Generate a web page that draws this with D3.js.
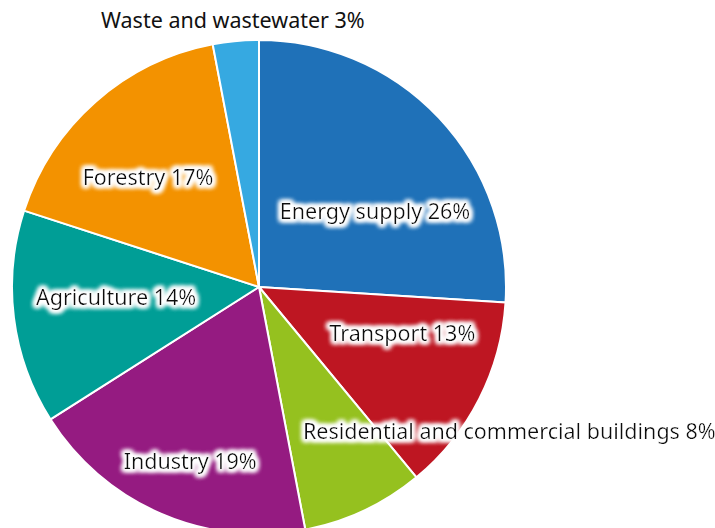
<!DOCTYPE html>
<html>
<head>
<meta charset="utf-8">
<script src="https://cdn.jsdelivr.net/npm/d3@7"></script>
<style>
  body { margin: 0; background: #fff; }
  text { font-family: "Noto Sans", "Open Sans", sans-serif; }
</style>
</head>
<body>
<svg id="chart" width="715" height="528"></svg>
<script>
const sectors = ["Energy supply", "Transport", "Residential and commercial buildings",
  "Industry", "Agriculture", "Forestry", "Waste and wastewater"];
const shares = [26, 13, 8, 19, 14, 17, 3];
const colors = ["#1f71b8", "#be1622", "#95c11f", "#951b81", "#009e96", "#f39200", "#36a9e1"];

// label placement: angle (deg, clockwise from top) and radius as fraction of pie radius
const labelAngle = [57, 108, 120, 201.5, 266, 314.5, 354.4];
const labelRadius = [0.56, 0.61, 1.17, 0.76, 0.58, 0.63, 1.085];
const labelGlow = [true, true, true, true, true, true, false];

const width = 715, height = 528;
const cx = 259, cy = 287, R = 247;

const svg = d3.select("#chart");

// white glow behind text
const defs = svg.append("defs");
const glow = defs.append("filter").attr("id", "glow")
  .attr("x", "-20%").attr("y", "-50%").attr("width", "140%").attr("height", "200%");
glow.append("feMorphology").attr("in", "SourceAlpha").attr("operator", "dilate").attr("radius", 1.5).attr("result", "thick");
glow.append("feGaussianBlur").attr("in", "thick").attr("stdDeviation", 2.5).attr("result", "blur");
glow.append("feFlood").attr("flood-color", "#fff").attr("result", "white");
glow.append("feComposite").attr("in", "white").attr("in2", "blur").attr("operator", "in").attr("result", "halo");
const merge = glow.append("feMerge");
merge.append("feMergeNode").attr("in", "halo");
merge.append("feMergeNode").attr("in", "halo");
merge.append("feMergeNode").attr("in", "halo");
merge.append("feMergeNode").attr("in", "SourceGraphic");

const data = sectors.map((s, i) => ({ name: s, value: shares[i], color: colors[i], i }));

const pie = d3.pie().value(d => d.value).sort(null);
const arc = d3.arc().innerRadius(0).outerRadius(R);

const g = svg.append("g").attr("transform", `translate(${cx},${cy})`);

g.selectAll("path")
  .data(pie(data))
  .join("path")
  .attr("d", arc)
  .attr("fill", d => d.data.color)
  .attr("stroke", "#fff")
  .attr("stroke-width", 2)
  .attr("stroke-linejoin", "round");

g.selectAll("text")
  .data(data)
  .join("text")
  .attr("transform", d => {
    const p = d3.pointRadial(labelAngle[d.i] * Math.PI / 180, labelRadius[d.i] * R);
    return `translate(${p[0]},${p[1]})`;
  })
  .attr("text-anchor", "middle")
  .attr("dy", "0.35em")
  .attr("font-size", 21.5)
  .attr("fill", "#111")
  .attr("filter", d => labelGlow[d.i] ? "url(#glow)" : null)
  .text(d => `${d.name} ${d.value}%`);
</script>
</body>
</html>
